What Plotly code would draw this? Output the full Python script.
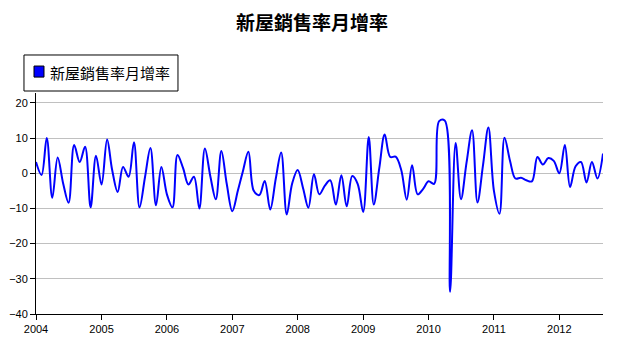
import pandas as pd
import plotly.graph_objects as go

# Monthly change in new home sales rate (%), Jan 2004 - Sep 2012
months = pd.date_range("2004-01-01", "2012-09-01", freq="MS")

rate_2004 = [3.2, -0.5, 10.0, -7.0, 4.5, -3.0, -8.4, 8.0, 3.2, 7.5, -9.7, 5.0]
rate_2005 = [-3.2, 9.6, 1.0, -5.3, 1.8, -1.0, 8.8, -9.7, -1.0, 7.2, -9.1, 1.8]
rate_2006 = [-6.0, -9.7, 5.2, 1.5, -3.2, -1.0, -10.0, 7.0, -1.0, -7.4, 6.3, -3.0]
rate_2007 = [-10.8, -5.0, 0.5, 6.1, -5.0, -6.2, -2.2, -10.3, -1.5, 5.9, -11.7, -3.0]
rate_2008 = [0.9, -4.4, -9.8, -0.3, -6.0, -3.5, -2.0, -8.9, -0.6, -9.4, -0.8, -3.0]
rate_2009 = [-11.0, 10.3, -8.9, 1.5, 11.0, 4.6, 4.7, 1.0, -7.5, 2.3, -6.0, -4.5]
rate_2010 = [-2.3, -3.0, 14.8, 15.0, -33.7, 8.6, -7.4, 3.0, 12.2, -8.3, 2.3, 13.0]
rate_2011 = [-5.0, -11.5, 10.1, 3.5, -1.5, -1.3, -2.0, -2.3, 4.6, 2.5, 4.3, 3.5]
rate_2012 = [0.0, 8.0, -3.9, 2.0, 3.2, -2.6, 3.2, -1.5, 5.6]

rates = (rate_2004 + rate_2005 + rate_2006 + rate_2007 + rate_2008
         + rate_2009 + rate_2010 + rate_2011 + rate_2012)

series_name = "新屋銷售率月增率"
title_text = "新屋銷售率月增率"
y_ticks = [-40, -30, -20, -10, 0, 10, 20]
year_ticks = pd.date_range("2004-01-01", "2012-01-01", freq="YS")
year_labels = [str(d.year) for d in year_ticks]

SERIES_COLOR = "#0000ff"

fig = go.Figure()
fig.add_trace(go.Scatter(
    x=months, y=rates, mode="lines", name=series_name,
    line=dict(color=SERIES_COLOR, width=2, shape="spline", smoothing=1),
    showlegend=False, hoverinfo="skip",
))

# boxed legend above the top-left corner of the plot
fig.add_shape(type="rect", xref="paper", yref="paper",
              x0=-0.0212, x1=0.2504, y0=1.009, y1=1.172,
              line=dict(color="#000000", width=1), fillcolor="white")
fig.add_shape(type="rect", xref="paper", yref="paper",
              x0=-0.0035, x1=0.0141, y0=1.072, y1=1.122,
              line=dict(color="#000000", width=1), fillcolor=SERIES_COLOR)
fig.add_annotation(text=series_name, xref="paper", yref="paper",
                   x=0.0212, y=1.0905, xanchor="left", yanchor="middle",
                   showarrow=False,
                   font=dict(family="Noto Sans CJK TC", size=15, color="#000000"))

fig.update_layout(
    width=618, height=340,
    margin=dict(l=36, r=15, t=93, b=26, autoexpand=False),
    paper_bgcolor="white", plot_bgcolor="white",
    showlegend=False,
    title=dict(text=title_text, x=0.505, xanchor="center", y=0.93, yanchor="middle",
               font=dict(family="Noto Sans CJK TC", size=19, color="#000000", weight="bold")),
    font=dict(family="Liberation Sans", size=11, color="#000000"),
)
fig.update_xaxes(
    range=[months[0], months[-1]], automargin=False,
    tickvals=year_ticks, ticktext=year_labels,
    showgrid=False, zeroline=False,
    showline=True, linecolor="#000000", linewidth=1,
    ticks="outside", ticklen=5, tickcolor="#000000",
)
fig.update_yaxes(
    range=[-40, 22.8], tickvals=y_ticks, automargin=False,
    showgrid=True, gridcolor="#c0c0c0", gridwidth=1, zeroline=False,
    showline=True, linecolor="#000000", linewidth=1,
    ticks="outside", ticklen=5, tickcolor="#000000",
)

fig.write_html("out.html")
